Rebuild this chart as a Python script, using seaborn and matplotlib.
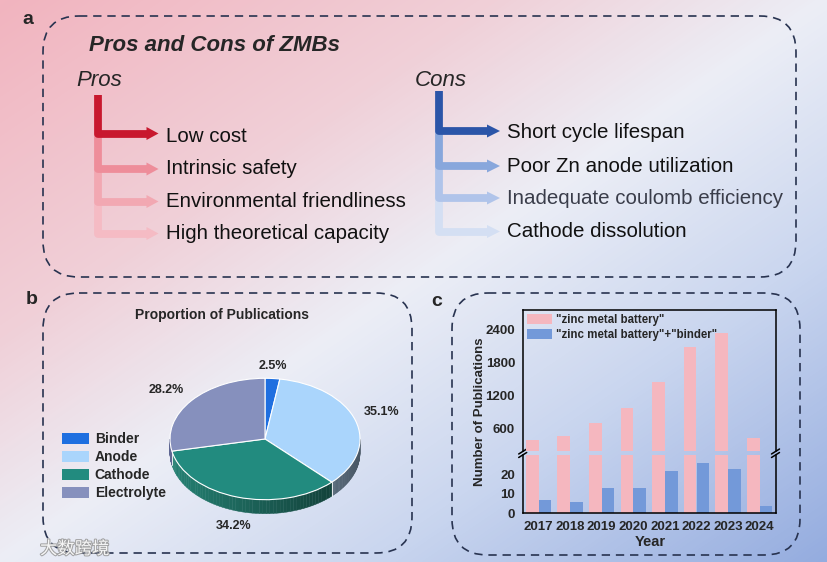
import numpy as np
import pandas as pd
import matplotlib
matplotlib.use("Agg")
import matplotlib.pyplot as plt
import seaborn as sns
from matplotlib.patches import FancyBboxPatch, Polygon, Patch
from matplotlib.colors import LinearSegmentedColormap, to_rgb
import matplotlib.patheffects as pe

# ---------------- data ----------------
pros_items = ["Low cost", "Intrinsic safety", "Environmental friendliness", "High theoretical capacity"]
cons_items = ["Short cycle lifespan", "Poor Zn anode utilization", "Inadequate coulomb efficiency", "Cathode dissolution"]
pie_labels = ["Binder", "Anode", "Cathode", "Electrolyte"]
pie_values = [2.5, 35.1, 34.2, 28.2]
years = ["2017", "2018", "2019", "2020", "2021", "2022", "2023", "2024"]
zmb_counts = [390, 470, 710, 980, 1450, 2080, 2340, 440]
binder_counts = [7, 6, 13, 13, 22, 26, 23, 4]
series_names = ['"zinc metal battery"', '"zinc metal battery"+"binder"']

# ---------------- style ----------------
sns.set_style("white")
plt.rcParams["font.family"] = ["Liberation Sans", "DejaVu Sans"]
plt.rcParams["axes.unicode_minus"] = False

W, H = 827, 562
fig = plt.figure(figsize=(W / 100, H / 100), dpi=100)

# background gradient + overlay axes in pixel coordinates
bg = fig.add_axes([0, 0, 1, 1])
bg.set_xlim(0, W)
bg.set_ylim(H, 0)
bg.axis("off")
yy, xx = np.mgrid[0:H, 0:W]
t = 0.5 * xx / W + 0.5 * yy / H
cmap = LinearSegmentedColormap.from_list(
    "bg", [(0.0, "#f2b4bf"), (0.3, "#f0d0d8"), (0.5, "#eceef6"), (0.72, "#cad6ef"), (1.0, "#94acdf")])
bg.imshow(t, cmap=cmap, extent=(0, W, H, 0), aspect="auto", vmin=0, vmax=1, zorder=0)

def dbox(x0, y0, x1, y1, r):
    bg.add_patch(FancyBboxPatch((x0, y0), x1 - x0, y1 - y0,
                                boxstyle=f"round,pad=0,rounding_size={r}",
                                fill=False, ec="#283350", lw=1.2, ls=(0, (5, 3.5)), zorder=2))

dbox(43, 16, 796, 277, 36)
dbox(43, 293, 412, 553, 36)
dbox(452, 293, 800, 555, 36)

# panel labels
for s, (x, y) in zip(["a", "b", "c"], [(27.5, 19), (31.5, 299), (437, 301)]):
    bg.text(x, y, s, fontsize=14, fontweight="bold", ha="center", va="center", zorder=3)

# ---------------- panel a ----------------
bg.text(89, 45.5, "Pros and Cons of ZMBs", fontsize=16, fontweight="bold", fontstyle="italic",
        ha="left", va="center", zorder=3)
bg.text(76, 81, "Pros", fontsize=16, fontstyle="italic", ha="left", va="center", zorder=3)
bg.text(415, 81, "Cons", fontsize=16, fontstyle="italic", ha="left", va="center", zorder=3)

pros_colors = ["#c8182e", "#ee8d9a", "#f2a8b2", "#f5bbc4"]
cons_colors = ["#2b55a8", "#88a7dc", "#b0c4ea", "#d4dff3"]

def arrows(xv, ytop, ys, xhs, xtip, colors):
    n = len(ys)
    for i in reversed(range(n)):
        y0 = ytop if i == 0 else ys[i - 1]
        bg.plot([xv, xv, xhs], [y0, ys[i], ys[i]], color=colors[i], lw=5.6,
                solid_joinstyle="round", solid_capstyle="butt", zorder=3 + (n - i) * 0.01)
        bg.add_patch(Polygon([(xhs - 0.5, ys[i] - 6.5), (xtip, ys[i]), (xhs - 0.5, ys[i] + 6.5)],
                             closed=True, fc=colors[i], ec="none", zorder=3 + (n - i) * 0.01))

pros_y = [133.5, 169, 201.5, 233.5]
cons_y = [131, 166, 198, 231.5]
arrows(98, 95, pros_y, 147, 158.5, pros_colors)
arrows(439, 91, cons_y, 487.5, 500, cons_colors)

for s, y in zip(pros_items, [136.5, 169, 201.5, 233.5]):
    bg.text(166, y, s, fontsize=14.8, ha="left", va="center", color="#111111", zorder=3)
for i, (s, y) in zip(range(4), zip(cons_items, [132.5, 166, 198.5, 231.5])):
    bg.text(507, y, s, fontsize=14.8, ha="left", va="center",
            color="#3a3d4a" if i == 2 else "#111111", zorder=3)

# ---------------- panel b (3D-like pie) ----------------
pie_colors = ["#1f6fe0", "#aad5fc", "#228b7f", "#8690bd"]
side_base = ["#174fa8", "#7890a7", "#1a5c52", "#434968"]
cx, cy, rx, ry = 265, 439, 95, 60.7
px0, px1, py0, py1 = 150, 380, 350, 530
ax_pie = fig.add_axes([px0 / W, 1 - py1 / H, (px1 - px0) / W, (py1 - py0) / H])
ax_pie.patch.set_alpha(0)
wedges, _ = ax_pie.pie(pie_values, colors=pie_colors, startangle=90, counterclock=False,
                       wedgeprops=dict(edgecolor="white", linewidth=0.8))
ax_pie.set_aspect("auto")
ax_pie.set_xlim((px0 - cx) / rx, (px1 - cx) / rx)
ax_pie.set_ylim(-(py1 - cy) / ry, (cy - py0) / ry)
depth = 14 / ry
fr = np.array(pie_values) / np.sum(pie_values)
th_start = 90 - np.concatenate([[0], np.cumsum(fr)[:-1]]) * 360
th_end = th_start - fr * 360
for i in range(len(pie_values)):
    hi = min(th_start[i], 0)
    lo = max(th_end[i], -180)
    if hi <= lo:
        continue
    th = np.radians(np.linspace(hi, lo, 60))
    base = np.array(to_rgb(side_base[i]))
    for a, b in zip(th[:-1], th[1:]):
        f = 1 - 0.4 * np.cos((a + b) / 2)
        col = np.clip(base * f, 0, 1)
        poly = [(np.cos(a), np.sin(a)), (np.cos(b), np.sin(b)),
                (np.cos(b), np.sin(b) - depth), (np.cos(a), np.sin(a) - depth)]
        ax_pie.add_patch(Polygon(poly, closed=True, fc=col, ec=col, lw=0.3, zorder=0.5))
# divider lines on the side
for ang in th_end:
    if -180 < ang < 0:
        a = np.radians(ang)
        ax_pie.plot([np.cos(a), np.cos(a)], [np.sin(a), np.sin(a) - depth], color="white", lw=0.6, zorder=0.6)

bg.text(221.7, 315, "Proportion of Publications", fontsize=10, fontweight="bold",
        ha="center", va="center", zorder=3)
for v, (x, y) in zip(pie_values, [(273, 366), (382, 412.3), (233.7, 526), (166.3, 390)]):
    fig.text(x / W, 1 - y / H, f"{v}%", fontsize=9, fontweight="bold", ha="center", va="center")

leg_b = fig.legend(handles=[Patch(fc=c, ec="none") for c in pie_colors], labels=pie_labels,
                   loc="upper left", bbox_to_anchor=(62 / W, 1 - 432 / H), bbox_transform=fig.transFigure,
                   frameon=False, prop=dict(weight="bold", size=10), handlelength=1.95, handleheight=0.85,
                   handletextpad=0.4, labelspacing=0.3, borderpad=0, borderaxespad=0)

# ---------------- panel c (broken-axis bars) ----------------
pink, blue = "#f5b7bf", "#7399d9"
L, R = 522.7, 775.5
ax_up = fig.add_axes([L / W, 1 - 451 / H, (R - L) / W, (451 - 310) / H])
ax_lo = fig.add_axes([L / W, 1 - 513.3 / H, (R - L) / W, (513.3 - 455) / H])
df = pd.DataFrame({
    "Year": years * 2,
    "Count": zmb_counts + binder_counts,
    "Series": [series_names[0]] * len(years) + [series_names[1]] * len(years),
})
for ax in (ax_up, ax_lo):
    ax.patch.set_alpha(0)
    sns.barplot(data=df, x="Year", y="Count", hue="Series", palette=[pink, blue], width=0.8,
                saturation=1, linewidth=0, ax=ax, legend=False)
    ax.set_xlim(-0.5, 7.5)
    ax.set_xlabel("")
    ax.set_ylabel("")
    for sp in ax.spines.values():
        sp.set_linewidth(1.1)
        sp.set_color("black")
    ax.tick_params(axis="y", direction="out", length=3.5, width=1.1, pad=2, labelsize=9.5)
    ax.tick_params(axis="x", direction="out", length=3.5, width=1.1, pad=2, labelsize=9.5)

ax_up.set_ylim(200, 2750)
ax_up.set_yticks([600, 1200, 1800, 2400])
ax_up.set_yticklabels(["600", "1200", "1800", "2400"], fontweight="bold", fontsize=9.5)
ax_up.spines["bottom"].set_visible(False)
ax_up.tick_params(axis="x", bottom=False, labelbottom=False)
ax_lo.set_ylim(0, 30)
ax_lo.set_yticks([0, 10, 20])
ax_lo.set_yticklabels(["0", "10", "20"], fontweight="bold", fontsize=9.5)
ax_lo.spines["top"].set_visible(False)
ax_lo.set_xticks(range(len(years)))
ax_lo.set_xticklabels(years, fontweight="bold", fontsize=9.5)

# break marks
for x in (L, R):
    for yb in (451.5, 455.0):
        bg.plot([x - 4, x + 4], [yb + 2.5, yb - 2.5], color="black", lw=1.1, zorder=5)

ax_up.legend(handles=[Patch(fc=pink, ec="none"), Patch(fc=blue, ec="none")], labels=series_names,
             loc="upper left", bbox_to_anchor=(0.0, 1.0), frameon=False,
             prop=dict(weight="bold", size=8.3), handlelength=2.2, handleheight=1.0,
             handletextpad=0.3, labelspacing=0.25, borderpad=0.25, borderaxespad=0.1)

bg.text(480, 411.7, "Number of Publications", rotation=90, fontsize=9.5, fontweight="bold",
        ha="center", va="center", zorder=3)
bg.text(650, 542.3, "Year", fontsize=10.5, fontweight="bold", ha="center", va="center", zorder=3)

# watermark
bg.text(40, 549, "大数跨境", family=["Noto Sans CJK SC", "DejaVu Sans"], fontsize=12.5, color="white",
        alpha=0.9, ha="left", va="center", zorder=6,
        path_effects=[pe.withStroke(linewidth=1.5, foreground="#9a9a9a")])

fig.savefig("out.png", dpi=100)
